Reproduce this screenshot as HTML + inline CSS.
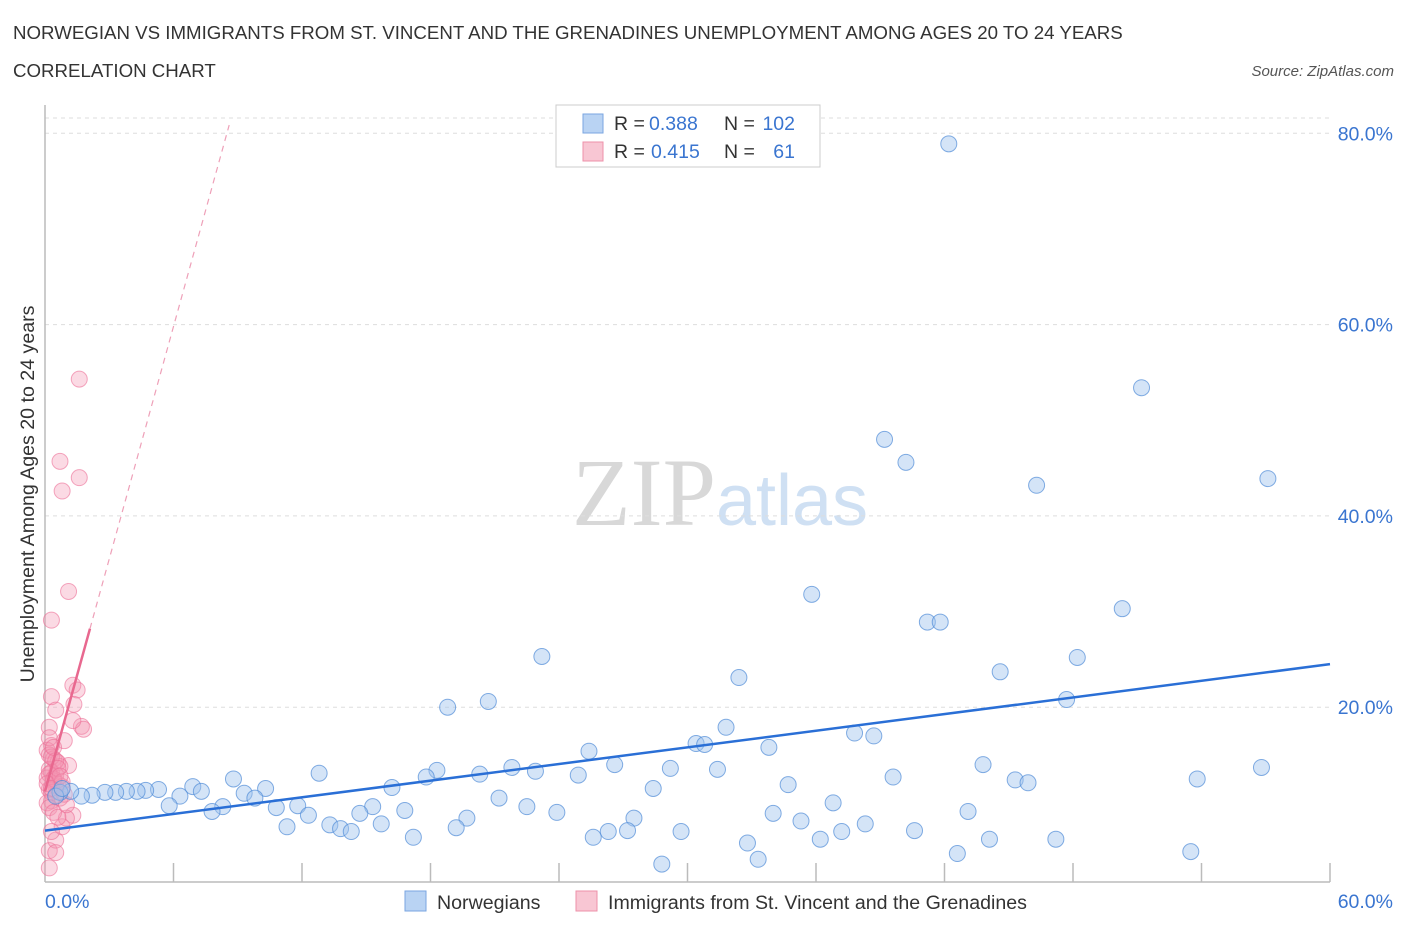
<!DOCTYPE html>
<html><head><meta charset="utf-8"><style>
body{margin:0;background:#fff;font-family:"Liberation Sans",sans-serif;}
svg text{font-family:"Liberation Sans",sans-serif;}
</style></head><body>
<svg id="chart" width="1406" height="930" viewBox="0 0 1406 930" xmlns="http://www.w3.org/2000/svg">
<text x="13" y="39" font-size="18.7" fill="#333">NORWEGIAN VS IMMIGRANTS FROM ST. VINCENT AND THE GRENADINES UNEMPLOYMENT AMONG AGES 20 TO 24 YEARS</text>
<text x="13" y="77" font-size="18.7" fill="#333">CORRELATION CHART</text>
<text x="1394" y="76" font-size="15" fill="#555" text-anchor="end" font-style="italic">Source: ZipAtlas.com</text>
<text x="720" y="525" font-size="96" text-anchor="middle" fill="#ddd" font-family="Liberation Serif"><tspan fill="#d8d8d8" font-family="Liberation Serif">ZIP</tspan><tspan fill="#cfe0f3" font-family="Liberation Sans" font-size="72">atlas</tspan></text>
<g id="grid"></g>
<g id="axes"></g>
<g id="marks"></g>
<g>
<rect x="556" y="105" width="264" height="62" fill="#fff" stroke="#ccc"/>
<rect x="583" y="114" width="20" height="19" fill="#b9d3f3" stroke="#7aa6e0"/>
<text x="614" y="130" font-size="19.5" fill="#333">R =</text>
<text x="649" y="130" font-size="19.5" fill="#3a75d0">0.388</text>
<text x="724" y="130" font-size="19.5" fill="#333">N =</text>
<text x="795" y="130" font-size="19.5" fill="#3a75d0" text-anchor="end">102</text>
<rect x="583" y="142" width="20" height="19" fill="#f8c6d3" stroke="#ee90aa"/>
<text x="614" y="158" font-size="19.5" fill="#333">R =</text>
<text x="651" y="158" font-size="19.5" fill="#3a75d0">0.415</text>
<text x="724" y="158" font-size="19.5" fill="#333">N =</text>
<text x="795" y="158" font-size="19.5" fill="#3a75d0" text-anchor="end">61</text>
</g>
<g>
<rect x="405" y="891" width="21" height="20" fill="#b9d3f3" stroke="#7aa6e0"/>
<text x="437" y="909" font-size="19.6" fill="#333">Norwegians</text>
<rect x="576" y="891" width="21" height="20" fill="#f8c6d3" stroke="#ee90aa"/>
<text x="608" y="909" font-size="19.6" fill="#333">Immigrants from St. Vincent and the Grenadines</text>
</g>
<text transform="translate(34,494) rotate(-90)" font-size="19.6" fill="#333" text-anchor="middle">Unemployment Among Ages 20 to 24 years</text>
</svg>
<script>
const yTicks=[20,40,60,80];
const xTickLabels=["0.0%","60.0%"];
const blueX=[42.2,51.2,39.2,40.2,46.3,57.1,35.8,50.3,41.2,41.8,23.2,48.2,44.6,32.4,47.7,20.7,18.8,31.8,37.8,38.7,30.4,30.8,33.8,25.4,26.6,21.8,22.9,24.9,29.2,31.4,18.3,43.8,56.8,12.8,17.8,20.3,39.6,53.8,45.3,45.9,8.8,34.7,28.4,16.2,10.3,6.9,7.3,5.3,4.7,4.3,3.8,3.3,2.8,2.2,1.7,1.2,0.7,0.5,0.8,6.3,9.3,9.8,21.2,15.3,11.8,10.8,8.3,7.8,5.8,16.8,22.5,36.8,14.7,12.3,23.9,34.0,43.1,19.7,27.5,15.7,13.3,13.8,14.3,11.3,19.2,35.3,38.3,26.3,27.2,29.7,37.2,40.6,25.6,17.2,36.2,44.1,47.2,32.8,42.6,53.5,33.3,28.8];
const blueY=[78.9,53.4,48.0,45.6,43.2,43.9,31.8,30.3,28.9,28.9,25.3,25.2,23.7,23.1,20.8,20.6,20.0,17.9,17.3,17.0,16.2,16.1,15.8,15.4,14.0,13.7,13.3,12.9,13.6,13.5,13.4,14.0,13.7,13.1,12.7,13.0,12.7,12.5,12.4,12.1,12.5,11.9,11.5,11.6,11.5,11.7,11.2,11.4,11.3,11.2,11.2,11.1,11.1,10.8,10.7,11.2,11.1,10.7,11.5,10.7,11.0,10.5,10.5,9.6,9.7,9.5,9.6,9.1,9.7,9.2,9.6,10.0,8.9,8.7,9.0,8.9,9.1,8.4,8.4,7.8,7.7,7.3,7.0,7.5,7.4,8.1,7.8,7.0,7.1,7.0,7.0,7.1,6.4,6.4,6.2,6.2,6.2,5.8,4.7,4.9,4.1,3.6];
const pinkX=[1.6,0.7,1.6,0.8,1.1,0.3,1.3,1.5,1.35,0.3,0.5,1.7,1.8,0.2,1.3,0.2,0.5,0.8,1.3,1.0,0.3,0.5,1.1,0.9,0.3,0.1,0.2,0.4,0.6,0.7,0.2,0.3,0.5,0.1,0.4,0.6,0.8,0.2,0.3,0.5,0.7,0.1,0.2,0.4,0.6,0.3,0.5,0.2,0.4,0.1,0.3,0.6,0.8,0.2,0.4,0.9,1.0,0.3,0.5,0.7,0.2];
const pinkY=[54.3,45.7,44.0,42.6,32.1,29.1,22.3,21.8,20.3,21.1,19.7,18.0,17.7,17.9,18.6,5.0,6.1,7.5,8.7,8.4,10.2,11.8,13.9,16.5,16.0,15.5,15.0,14.6,14.2,13.8,13.5,13.2,12.9,12.6,12.3,12.0,11.7,11.4,11.1,10.8,10.5,10.0,9.5,9.0,8.5,14.8,14.4,13.0,12.5,12.0,11.5,13.6,12.2,16.8,15.8,10.9,9.8,7.0,4.8,12.8,3.2];
const blueLine=[7.1,0.29];
const pinkLine=[11.2,8.1];
const X0=45,X1=1330,Y0=898.5,YS=9.565;
const xs=v=>X0+(X1-X0)*v/60, ys=v=>Y0-v*YS;
const NS="http://www.w3.org/2000/svg";
function mk(p,t,a){const e=document.createElementNS(NS,t);for(const k in a)e.setAttribute(k,a[k]);document.getElementById(p).appendChild(e);return e;}
yTicks.forEach(t=>{
 const g=mk('grid','line',{x1:X0,x2:X1,y1:ys(t),y2:ys(t),stroke:'#ddd','stroke-dasharray':'4,4'});
 
 
 const l=mk('axes','text',{x:1393,y:ys(t)+7,'font-size':19.5,fill:'#3a75d0','text-anchor':'end'});
 l.textContent=t.toFixed(1)+'%';
 
 
});
const tg=mk('grid','line',{x1:X0,x2:X1,y1:118,y2:118,stroke:'#ddd','stroke-dasharray':'4,4'});


const ax=mk('axes','line',{x1:X0,x2:X1,y1:882,y2:882,stroke:'#bbb','stroke-width':1.5});


const ay=mk('axes','line',{x1:X0,x2:X0,y1:105,y2:882,stroke:'#bbb','stroke-width':1.5});


for(let i=1;i<=10;i++){const t=mk('axes','line',{x1:xs(i*6),x2:xs(i*6),y1:863,y2:882,stroke:'#bbb','stroke-width':1.5});
 
 }
const xl0=mk('axes','text',{x:45,y:908,'font-size':19.5,fill:'#3a75d0'});xl0.textContent=xTickLabels[0];


const xl1=mk('axes','text',{x:1393,y:908,'font-size':19.5,fill:'#3a75d0','text-anchor':'end'});xl1.textContent=xTickLabels[1];


pinkX.forEach((x,i)=>{const c=mk('marks','circle',{cx:xs(x),cy:ys(pinkY[i]),r:8,fill:'rgba(244,150,178,0.35)',stroke:'rgba(236,110,150,0.6)'});
 
 });
blueX.forEach((x,i)=>{const c=mk('marks','circle',{cx:xs(x),cy:ys(blueY[i]),r:8,fill:'rgba(160,195,238,0.45)',stroke:'rgba(80,140,215,0.7)'});
 
 });
const bl=mk('marks','line',{x1:xs(0),y1:ys(blueLine[0]),x2:xs(60),y2:ys(blueLine[0]+blueLine[1]*60),stroke:'#2a6fd6','stroke-width':2.5});


const pl=mk('marks','line',{x1:xs(0),y1:ys(pinkLine[0]),x2:xs(2.1),y2:ys(pinkLine[0]+pinkLine[1]*2.1),stroke:'#e8688f','stroke-width':2.5});


const pd=mk('marks','line',{x1:xs(2.1),y1:ys(pinkLine[0]+pinkLine[1]*2.1),x2:xs(8.6),y2:ys(pinkLine[0]+pinkLine[1]*8.6),stroke:'#eea0b8','stroke-width':1.2,'stroke-dasharray':'6,5'});


</script>
</body></html>
